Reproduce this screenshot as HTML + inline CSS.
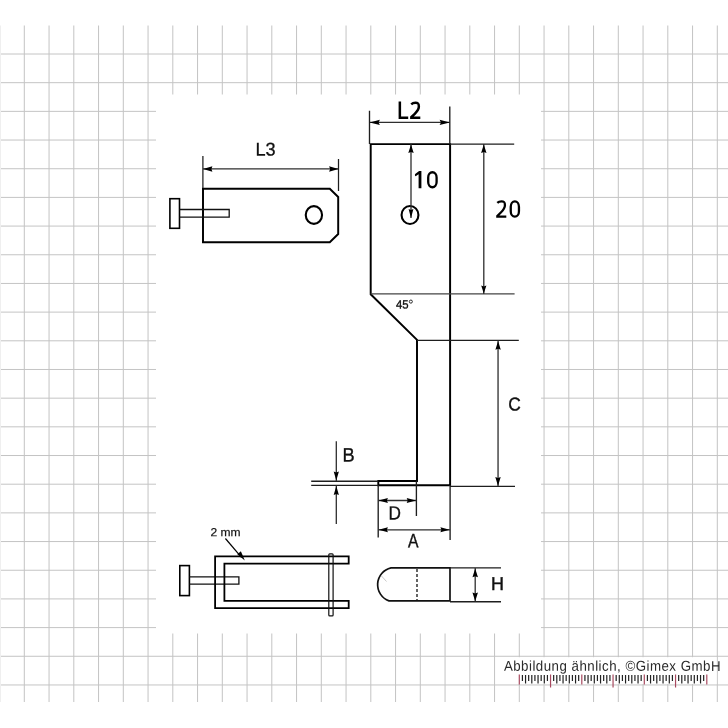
<!DOCTYPE html>
<html><head><meta charset="utf-8"><style>
html,body{margin:0;padding:0;background:#fff;width:728px;height:728px;overflow:hidden}
svg{display:block} text{-webkit-font-smoothing:antialiased} body{will-change:transform}
</style></head><body>
<svg width="728" height="728" viewBox="0 0 728 728">
<path d="M24.30 25.5V702 M49.05 25.5V702 M73.80 25.5V702 M98.55 25.5V702 M123.30 25.5V702 M148.05 25.5V702 M172.80 25.5V702 M197.55 25.5V702 M222.30 25.5V702 M247.05 25.5V702 M271.80 25.5V702 M296.55 25.5V702 M321.30 25.5V702 M346.05 25.5V702 M370.80 25.5V702 M395.55 25.5V702 M420.30 25.5V702 M445.05 25.5V702 M469.80 25.5V702 M494.55 25.5V702 M519.30 25.5V702 M544.05 25.5V702 M568.80 25.5V702 M593.55 25.5V702 M618.30 25.5V702 M643.05 25.5V702 M667.80 25.5V702 M692.55 25.5V702 M717.30 25.5V702 M0 54.00H728 M0 82.68H728 M0 111.36H728 M0 140.04H728 M0 168.72H728 M0 197.40H728 M0 226.08H728 M0 254.76H728 M0 283.44H728 M0 312.12H728 M0 340.80H728 M0 369.48H728 M0 398.16H728 M0 426.84H728 M0 455.52H728 M0 484.20H728 M0 512.88H728 M0 541.56H728 M0 570.24H728 M0 598.92H728 M0 627.60H728 M0 656.28H728 M0 684.96H728" stroke="#c4c4c4" stroke-width="1" fill="none"/>
<path d="M0.5 25.5V702" stroke="#efefef" stroke-width="1"/>
<rect x="156" y="94.5" width="385" height="539" fill="#fff"/>
<rect x="500" y="657.2" width="216.5" height="26.8" fill="#fff"/>
<path d="M203 188.75H329.8L338.2 197V234L329.8 242.3H203Z" fill="none" stroke="#000" stroke-width="1.95"/>
<ellipse cx="313.9" cy="215" rx="8.15" ry="8.85" fill="none" stroke="#000" stroke-width="2.1"/>
<rect x="169.9" y="198.7" width="9.6" height="29.6" fill="none" stroke="#000" stroke-width="1.6"/>
<path d="M179.6 209.5H229.2V217.2H179.6" fill="none" stroke="#111" stroke-width="1.3"/>
<path d="M202.9 156V188 M338.5 159V191" stroke="#1e1e1e" stroke-width="1.25" fill="none"/>
<path d="M203 168.9H338.5" stroke="#2e2e2e" stroke-width="1.3" fill="none"/>
<path d="M203.00 168.90L212.40 171.65L211.40 168.90L212.40 166.15Z" fill="#000"/>
<path d="M338.50 168.90L329.10 166.15L330.10 168.90L329.10 171.65Z" fill="#000"/>
<path d="M370.7 144.1V294.3L417 339.8V481H378.3V485.2H450.1V144.1Z" fill="none" stroke="#000" stroke-width="1.95" stroke-linejoin="miter"/>
<ellipse cx="410" cy="215" rx="8.45" ry="9.05" fill="none" stroke="#000" stroke-width="2.1"/>
<path d="M369.5 110.7V144 M449.8 106.5V144 M450 144.1H514.2 M417 340.4H518.8 M450 486.3H515 M311.2 481.2H378.3 M311.2 485.3H378.3 M378.2 485V537.6 M416.4 481V516 M450.1 485V540" stroke="#1e1e1e" stroke-width="1.35" fill="none"/>
<path d="M370.7 293.9H514.6" stroke="#444" stroke-width="1.25" fill="none"/>
<path d="M370 122.4H450 M411 144V218 M483.8 144V294 M498.05 340.4V486 M336.3 441.2V481 M336.3 485.5V524 M378.2 500.5H416.4 M378.2 529.8H450.1" stroke="#2e2e2e" stroke-width="1.3" fill="none"/>
<path d="M369.60 122.40L379.90 125.00L378.50 122.40L379.90 119.80Z" fill="#000"/>
<path d="M449.90 122.40L439.60 119.80L441.00 122.40L439.60 125.00Z" fill="#000"/>
<path d="M411.00 144.60L408.30 152.90L411.00 151.90L413.70 152.90Z" fill="#000"/>
<path d="M411.00 217.90L413.40 209.10L411.00 210.10L408.60 209.10Z" fill="#000"/>
<path d="M483.80 144.60L481.10 153.10L483.80 152.10L486.50 153.10Z" fill="#000"/>
<path d="M483.80 293.60L486.40 285.40L483.80 286.40L481.20 285.40Z" fill="#000"/>
<path d="M498.10 341.00L495.40 349.80L498.10 348.80L500.80 349.80Z" fill="#000"/>
<path d="M498.00 485.90L500.70 476.90L498.00 477.90L495.30 476.90Z" fill="#000"/>
<path d="M336.30 480.60L338.90 471.60L336.30 472.60L333.70 471.60Z" fill="#000"/>
<path d="M336.30 485.90L333.70 494.90L336.30 493.90L338.90 494.90Z" fill="#000"/>
<path d="M378.60 500.50L387.90 503.00L386.90 500.50L387.90 498.00Z" fill="#000"/>
<path d="M416.00 500.50L406.70 498.00L407.70 500.50L406.70 503.00Z" fill="#000"/>
<path d="M378.60 529.80L387.90 532.30L386.90 529.80L387.90 527.30Z" fill="#000"/>
<path d="M449.70 529.80L440.40 527.30L441.40 529.80L440.40 532.30Z" fill="#000"/>
<rect x="179.8" y="565.6" width="9.6" height="30" fill="none" stroke="#000" stroke-width="1.6"/>
<path d="M189.4 576.9H238.9V584.1H189.4" fill="none" stroke="#111" stroke-width="1.3"/>
<path d="M348.7 556.3H215.1V608.2H348.7V600.8H224.4V563.6H348.7Z" fill="none" stroke="#000" stroke-width="1.8"/>
<rect x="328.8" y="553.8" width="4.3" height="62" rx="0.9" fill="none" stroke="#111" stroke-width="1.2"/>
<path d="M225.4 538.5L241.5 557.4" stroke="#000" stroke-width="1.2"/>
<path d="M244.8 560.6L237.3 554.2L240.9 551.3Z" fill="#000"/>
<path d="M450 567.8H391A17.3 17.3 0 0 0 389 600.9H450Z" fill="none" stroke="#111" stroke-width="1.7"/>
<path d="M381.5 576L386.5 581.5" stroke="#bbb" stroke-width="0.8"/>
<path d="M417 568.9V600" stroke="#111" stroke-width="1.3" stroke-dasharray="3.1 1.9"/>
<path d="M450 567.9H501 M450 601.7H501" stroke="#1e1e1e" stroke-width="1.35" fill="none"/>
<path d="M475.2 568V601.5" stroke="#2e2e2e" stroke-width="1.3" fill="none"/>
<path d="M475.20 568.40L472.45 577.20L475.20 576.20L477.95 577.20Z" fill="#000"/>
<path d="M475.20 601.20L477.95 592.40L475.20 593.40L472.45 592.40Z" fill="#000"/>
<text transform="translate(255.50 155.57) rotate(0.05) scale(0.9930 1)" font-size="18.31" font-family="Liberation Sans, sans-serif" font-weight="400" fill="#111" stroke="#111" stroke-width="0.3">L3</text>
<path d="M399.85 101.6V117.85H408.2" fill="none" stroke="#000" stroke-width="2.5"/>
<path d="M411.22 104.31C412.45 103.20 413.87 102.85 415.40 102.85C417.85 102.85 418.85 103.17 418.85 106.59C418.85 109.12 417.44 111.22 414.79 113.85L411.35 117.15V117.85H420.30" fill="none" stroke="#000" stroke-width="2.5" stroke-linejoin="miter"/>
<path d="M421.4 171.1V188.3H418.6V174.2L416.0 176.1Q415.3 176.3 415.0 175.5L414.9 174.8Q414.9 174.2 415.5 173.8L419.1 171.1Z" fill="#000"/>
<rect x="428.2" y="172.25" width="8.4" height="15.0" rx="4.2" ry="5.2" fill="none" stroke="#000" stroke-width="2.3"/>
<path d="M497.31 202.93C498.52 201.70 499.94 201.35 501.45 201.35C503.88 201.35 504.95 201.78 504.95 205.22C504.95 207.77 503.47 209.88 500.85 212.52L497.35 215.95V216.65H506.30" fill="none" stroke="#000" stroke-width="2.3" stroke-linejoin="miter"/>
<rect x="510.75" y="201.35" width="8.20" height="15.30" rx="4.10" ry="5.51" fill="none" stroke="#000" stroke-width="2.3"/>
<text transform="translate(395.89 308.41) rotate(0.05) scale(0.9506 1)" font-size="11.93" font-family="Liberation Sans, sans-serif" font-weight="400" fill="#111" stroke="#111" stroke-width="0.35">45</text>
<circle cx="410.85" cy="301.6" r="1.55" fill="none" stroke="#222" stroke-width="0.95"/>
<text transform="translate(508.21 410.44) rotate(0.05) scale(0.9314 1)" font-size="18.66" font-family="Liberation Sans, sans-serif" font-weight="400" fill="#111" stroke="#111" stroke-width="0.35">C</text>
<text transform="translate(342.62 461.62) rotate(0.05) scale(0.9419 1)" font-size="19.35" font-family="Liberation Sans, sans-serif" font-weight="400" fill="#111" stroke="#111" stroke-width="0.35">B</text>
<text transform="translate(388.40 519.62) rotate(0.05) scale(0.9039 1)" font-size="19.06" font-family="Liberation Sans, sans-serif" font-weight="400" fill="#111" stroke="#111" stroke-width="0.35">D</text>
<text transform="translate(408.02 547.30) rotate(0.05) scale(0.8077 1)" font-size="19.42" font-family="Liberation Sans, sans-serif" font-weight="400" fill="#111" stroke="#111" stroke-width="0.4">A</text>
<text transform="translate(491.09 589.98) rotate(0.05) scale(0.9637 1)" font-size="18.62" font-family="Liberation Sans, sans-serif" font-weight="400" fill="#111" stroke="#111" stroke-width="0.45">H</text>
<text transform="translate(210.40 536.30) rotate(0.05) scale(1.0308 1)" font-size="11.71" font-family="Liberation Sans, sans-serif" font-weight="400" fill="#111" stroke="#111" stroke-width="0.2">2 mm</text>
<text transform="translate(503.9 670.7) rotate(0.05) scale(0.93 1)" font-size="14.3" letter-spacing="0.52" font-family="Liberation Sans, sans-serif" fill="#2a2a2a">Abbildung ähnlich, ©Gimex GmbH</text>
<path d="M522.42 675.0V680.9 M525.55 675.0V683.4 M528.67 675.0V680.9 M531.80 675.0V683.4 M534.92 675.0V680.9 M538.05 675.0V683.4 M541.17 675.0V680.9 M544.30 675.0V683.4 M547.42 675.0V680.9 M553.67 675.0V680.9 M556.80 675.0V683.4 M559.92 675.0V680.9 M563.05 675.0V683.4 M566.17 675.0V680.9 M569.30 675.0V683.4 M572.42 675.0V680.9 M575.55 675.0V683.4 M578.67 675.0V680.9 M584.92 675.0V680.9 M588.05 675.0V683.4 M591.17 675.0V680.9 M594.30 675.0V683.4 M597.42 675.0V680.9 M600.55 675.0V683.4 M603.67 675.0V680.9 M606.80 675.0V683.4 M609.92 675.0V680.9 M616.17 675.0V680.9 M619.30 675.0V683.4 M622.42 675.0V680.9 M625.55 675.0V683.4 M628.67 675.0V680.9 M631.80 675.0V683.4 M634.92 675.0V680.9 M638.05 675.0V683.4 M641.17 675.0V680.9 M647.42 675.0V680.9 M650.55 675.0V683.4 M653.67 675.0V680.9 M656.80 675.0V683.4 M659.92 675.0V680.9 M663.05 675.0V683.4 M666.17 675.0V680.9 M669.30 675.0V683.4 M672.42 675.0V680.9 M678.67 675.0V680.9 M681.80 675.0V683.4 M684.92 675.0V680.9 M688.05 675.0V683.4 M691.17 675.0V680.9 M694.30 675.0V683.4 M697.42 675.0V680.9 M700.55 675.0V683.4 M703.67 675.0V680.9" stroke="#222" stroke-width="1.2" fill="none"/>
<path d="M519.30 674.6V684.4 M550.55 674.6V687.4 M581.80 674.6V684.4 M613.05 674.6V687.4 M644.30 674.6V684.4 M675.55 674.6V687.4 M706.80 674.6V684.4" stroke="#a84a60" stroke-width="1.2" fill="none"/>
</svg>
</body></html>
